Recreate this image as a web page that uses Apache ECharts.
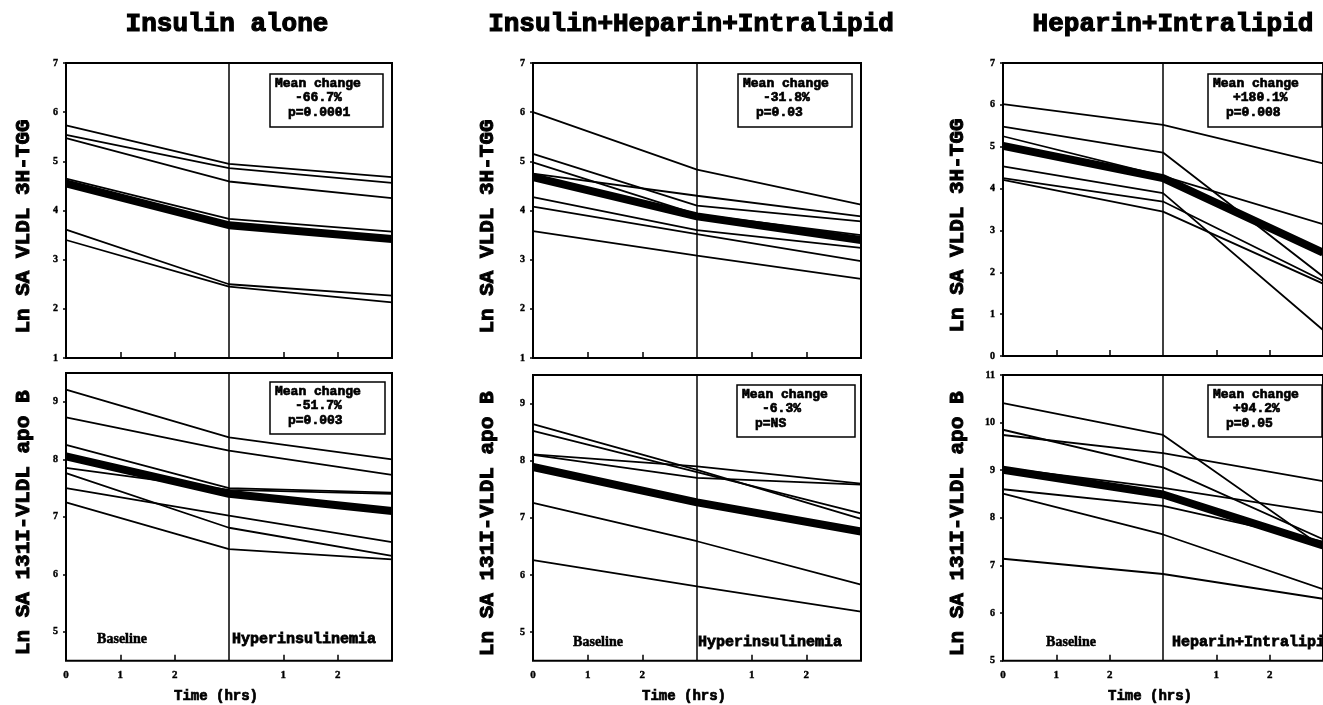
<!DOCTYPE html>
<html><head><meta charset="utf-8">
<script src="https://cdn.jsdelivr.net/npm/echarts@6/dist/echarts.min.js"></script>
<style>html,body{margin:0;padding:0;background:#fff}#c{width:1323px;height:705px}</style>
</head><body><div id="c"></div>
<script>
// ---------- data ----------
const times = [0, 3, 6];
const xTickValues = [1, 2, 4, 5];
const xLabelValues = [0, 1, 2, 4, 5];
const xTickLabels = ['0', '1', '2', '', '1', '2', ''];
const panelTitles = ['Insulin alone', 'Insulin+Heparin+Intralipid', 'Heparin+Intralipid'];
const yNameTop = 'Ln SA VLDL 3H-TGG';
const yNameBottom = 'Ln SA 131I-VLDL apo B';
const xName = 'Time (hrs)';
const phaseLeft = ['Baseline', 'Baseline', 'Baseline'];
const phaseRight = ['Hyperinsulinemia', 'Hyperinsulinemia', 'Heparin+Intralipid'];
const boxTopText = [['Mean change', '-66.7%', 'p=0.0001'], ['Mean change', '-31.8%', 'p=0.03'], ['Mean change', '+180.1%', 'p=0.008']];
const boxBottomText = [['Mean change', '-51.7%', 'p=0.003'], ['Mean change', '-6.3%', 'p=NS'], ['Mean change', '+94.2%', 'p=0.05']];
const yRangeTop = [[1, 7], [1, 7], [0, 7]];
const yRangeBottom = [[4.5, 9.5], [4.5, 9.5], [5, 11]];
const yTicksTop = [[1, 2, 3, 4, 5, 6, 7], [1, 2, 3, 4, 5, 6, 7], [0, 1, 2, 3, 4, 5, 6, 7]];
const yTicksBottom = [[5, 6, 7, 8, 9], [5, 6, 7, 8, 9], [5, 6, 7, 8, 9, 10, 11]];

// Insulin alone – TGG
const insAloneTgg = [
  [5.73, 4.95, 4.68],
  [5.54, 4.86, 4.56],
  [5.47, 4.59, 4.25],
  [4.65, 3.83, 3.57],
  [3.61, 2.50, 2.27],
  [3.40, 2.45, 2.13]
];
const insAloneTggMean = [4.55, 3.70, 3.42];
// Insulin alone – apo B
const insAloneApoB = [
  [9.21, 8.38, 8.00],
  [8.73, 8.15, 7.73],
  [8.25, 7.50, 7.42],
  [7.85, 7.47, 7.40],
  [7.76, 6.81, 6.32],
  [7.50, 7.02, 6.56],
  [7.25, 6.44, 6.26]
];
const insAloneApoBMean = [8.05, 7.40, 7.10];
// Insulin+Heparin+Intralipid – TGG
const ihiTgg = [
  [6.00, 4.83, 4.12],
  [5.15, 4.10, 3.78],
  [4.98, 3.92, 3.50],
  [4.75, 4.30, 3.88],
  [4.27, 3.60, 3.24],
  [4.08, 3.52, 2.97],
  [3.58, 3.08, 2.61]
];
const ihiTggMean = [4.68, 3.88, 3.40];
// Insulin+Heparin+Intralipid – apo B
const ihiApoB = [
  [8.64, 7.84, 6.98],
  [8.52, 7.80, 7.08],
  [8.11, 7.90, 7.60],
  [8.10, 7.70, 7.58],
  [7.26, 6.59, 5.83],
  [6.26, 5.80, 5.36]
];
const ihiApoBMean = [7.89, 7.27, 6.76];
// Heparin+Intralipid – TGG
const hiTgg = [
  [6.02, 5.52, 4.60],
  [5.48, 4.86, 1.90],
  [5.25, 4.30, 3.15],
  [4.53, 3.89, 0.62],
  [4.25, 3.69, 1.80],
  [4.21, 3.45, 1.73]
];
const hiTggMean = [5.02, 4.25, 2.47];
// Heparin+Intralipid – apo B
const hiApoB = [
  [10.41, 9.74, 7.38],
  [9.85, 9.06, 7.55],
  [9.74, 9.36, 8.77],
  [9.05, 8.63, 8.11],
  [8.60, 8.25, 7.50],
  [8.51, 7.65, 6.50],
  [7.14, 6.82, 6.30]
];
const hiApoBMean = [9.01, 8.49, 7.42];

// ---------- layout ----------
const panels = [
  { top: insAloneTgg, topMean: insAloneTggMean, bottom: insAloneApoB, bottomMean: insAloneApoBMean },
  { top: ihiTgg, topMean: ihiTggMean, bottom: ihiApoB, bottomMean: ihiApoBMean },
  { top: hiTgg, topMean: hiTggMean, bottom: hiApoB, bottomMean: hiApoBMean }
];
const gridsPx = [
  { left: 66, top: 63, width: 326, height: 295 },
  { left: 66, top: 373, width: 326, height: 289 },
  { left: 533, top: 63, width: 328, height: 295 },
  { left: 533, top: 375, width: 328, height: 290 },
  { left: 1003, top: 63, width: 330, height: 293 },
  { left: 1003, top: 375, width: 330, height: 289 }
];
const titleX = [222, 686, 1168];
const yNameGap = [32, 35, 35];
const MONO = '"Liberation Mono", "DejaVu Sans Mono", monospace';
const SERIF = '"Liberation Serif", "DejaVu Serif", serif';

function pts(vals) { return vals.map((v, i) => [times[i], v]); }

const grid = [], xAxis = [], yAxis = [], series = [], graphic = [];
gridsPx.forEach(g => grid.push(Object.assign({ show: true, borderColor: '#000', borderWidth: 2, backgroundColor: 'transparent' }, g)));

panels.forEach((p, pi) => {
  for (let row = 0; row < 2; row++) {
    const gi = pi * 2 + row;
    const range = row === 0 ? yRangeTop[pi] : yRangeBottom[pi];
    const yt = row === 0 ? yTicksTop[pi] : yTicksBottom[pi];
    xAxis.push({
      gridIndex: gi, type: 'value', min: 0, max: 6, interval: 1,
      axisLine: { show: false }, splitLine: { show: false },
      axisTick: { show: true, inside: true, length: 6, customValues: xTickValues, lineStyle: { color: '#000', width: 1.5 } },
      axisLabel: { show: row === 1, customValues: xLabelValues, formatter: v => xTickLabels[v], color: '#000', fontFamily: SERIF, fontWeight: 'bold', fontSize: 11, margin: 9, textBorderColor: '#000', textBorderWidth: 0.4 },
      name: row === 1 ? xName : '', nameLocation: 'middle', nameGap: 29,
      nameTextStyle: { color: '#000', fontFamily: MONO, fontWeight: 'bold', fontSize: 14, padding: [0, 26, 0, 0], textBorderColor: '#000', textBorderWidth: 0.7 }
    });
    yAxis.push({
      gridIndex: gi, type: 'value', min: range[0], max: range[1],
      axisLine: { show: false }, splitLine: { show: false },
      axisTick: { show: true, length: 3, customValues: yt, lineStyle: { color: '#000', width: 1.5 } },
      axisLabel: { customValues: yt, color: '#000', fontFamily: SERIF, fontWeight: 'bold', fontSize: 10, margin: 8, textBorderColor: '#000', textBorderWidth: 0.4 },
      name: row === 0 ? yNameTop : yNameBottom, nameLocation: 'middle', nameRotate: 90, nameGap: yNameGap[pi],
      nameTextStyle: { color: '#000', fontFamily: MONO, fontWeight: 'bold', fontSize: 21, padding: row === 0 ? [0, 32, 0, 0] : [0, 12, 0, 0], textBorderColor: '#000', textBorderWidth: 1 }
    });
    const lines = row === 0 ? p.top : p.bottom;
    const mean = row === 0 ? p.topMean : p.bottomMean;
    lines.forEach(l => series.push({
      type: 'line', xAxisIndex: gi, yAxisIndex: gi, data: pts(l), symbol: 'none', silent: true,
      lineStyle: { color: '#000', width: 1.8 }
    }));
    series.push({
      type: 'line', xAxisIndex: gi, yAxisIndex: gi, data: pts(mean), symbol: 'none', silent: true,
      lineStyle: { color: '#000', width: 8, join: 'round' },
      markLine: { silent: true, symbol: ['none', 'none'], label: { show: false }, lineStyle: { color: '#000', width: 1.5, type: 'solid' }, data: [{ xAxis: 3 }] }
    });
  }
});

// annotation boxes
function addBox(x, y, w, h, txt) {
  graphic.push({ type: 'rect', z: 100, shape: { x: x, y: y, width: w, height: h }, style: { fill: '#fff', stroke: '#000', lineWidth: 1.5 } });
  const offs = [[5, 10], [25, 24], [18, 39]];
  txt.forEach((t, i) => graphic.push({ type: 'text', z: 101, x: x + offs[i][0], y: y + offs[i][1], style: { text: t, font: 'bold 13px ' + MONO, fill: '#000', stroke: '#000', lineWidth: 0.7, verticalAlign: 'middle', align: 'left' } }));
}
const boxTopPos = [[270, 74, 113, 53], [738, 74, 114, 53], [1208, 74, 114, 53]];
const boxBottomPos = [[270, 382, 115, 52], [737, 385, 118, 52], [1208, 385, 114, 52]];
boxTopPos.forEach((b, i) => addBox(b[0], b[1], b[2], b[3], boxTopText[i]));
boxBottomPos.forEach((b, i) => addBox(b[0], b[1], b[2], b[3], boxBottomText[i]));

// phase labels
const baseX = [122, 598, 1071], baseY = [639, 642, 642];
const rightX = [232, 698, 1172];
phaseLeft.forEach((t, i) => graphic.push({ type: 'text', z: 101, x: baseX[i], y: baseY[i], style: { text: t, font: 'bold 14px ' + SERIF, fill: '#000', stroke: '#000', lineWidth: 0.5, align: 'center', verticalAlign: 'middle' } }));
phaseRight.forEach((t, i) => graphic.push({ type: 'text', z: 101, x: rightX[i], y: baseY[i], style: { text: t, font: 'bold 15px ' + MONO, fill: '#000', stroke: '#000', lineWidth: 0.8, align: 'left', verticalAlign: 'middle' } }));

const option = {
  animation: false,
  backgroundColor: '#fff',
  title: panelTitles.map((t, i) => ({ text: t, left: titleX[i], top: 6, textAlign: 'center', textStyle: { color: '#000', fontFamily: MONO, fontWeight: 'bold', fontSize: 26, textBorderColor: '#000', textBorderWidth: 1.2 } })),
  grid, xAxis, yAxis, series, graphic
};
const chart = echarts.init(document.getElementById('c'), null, { renderer: 'canvas' });
chart.setOption(option);
</script></body></html>
